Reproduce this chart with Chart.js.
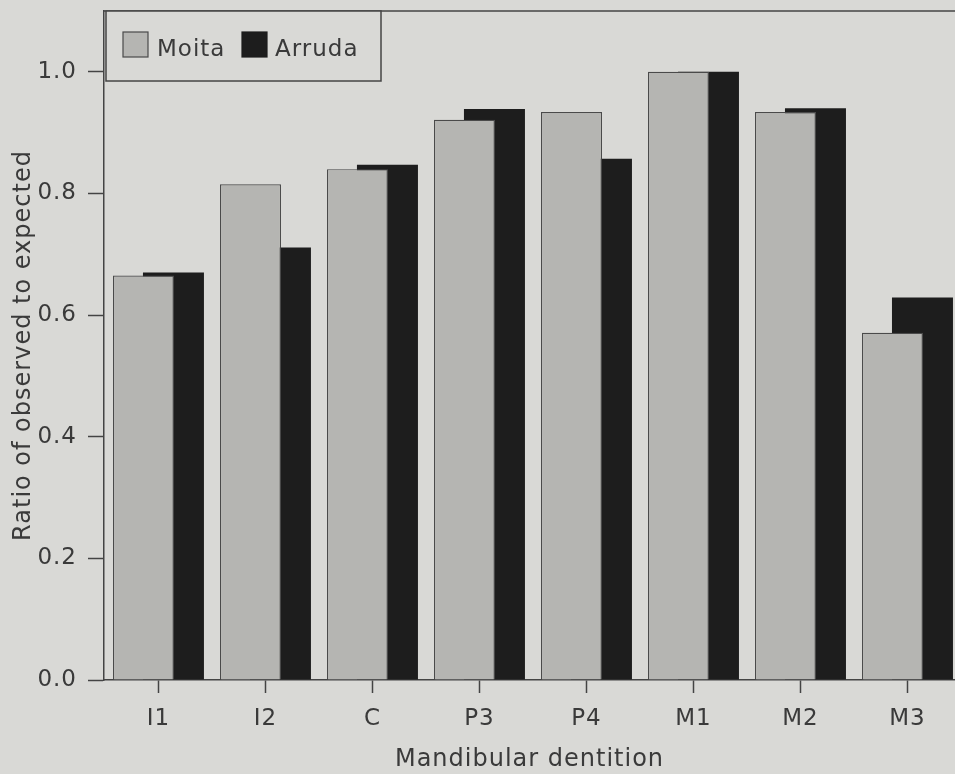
<!DOCTYPE html>
<html>
<head>
<meta charset="utf-8">
<script src="https://cdn.jsdelivr.net/npm/chart.js@4.4.1/dist/chart.umd.min.js"></script>
<style>
  html, body { margin: 0; padding: 0; background: #d9d9d6; }
  canvas { display: block; }
</style>
</head>
<body>
<canvas id="chart" width="955" height="774"></canvas>
<script>
// Mandibular dentition categories and observed/expected ratios
const categories = ['I1', 'I2', 'C', 'P3', 'P4', 'M1', 'M2', 'M3'];
const moitaValues = [0.665, 0.815, 0.840, 0.921, 0.934, 1.000, 0.934, 0.571];
const arrudaValues = [0.670, 0.711, 0.847, 0.939, 0.857, 1.000, 0.940, 0.629];
const yTicks = [0, 0.2, 0.4, 0.6, 0.8, 1.0];

const inkColor = '#3a3a3a';
const fontFamily = '"DejaVu Sans", sans-serif';
const barShift = 0.14; // the two bars of a pair overlap by half

const letterSpacingPlugin = {
    id: 'letterSpacing',
    beforeUpdate: (chart) => { chart.ctx.letterSpacing = '1px'; },
    beforeDraw: (chart) => { chart.ctx.letterSpacing = '1px'; }
};

// Top frame line and boxed legend like the printed figure
const frameLegendPlugin = {
    id: 'frameLegend',
    afterDraw: (chart) => {
        const ctx = chart.ctx;
        const area = chart.chartArea;
        ctx.save();
        ctx.strokeStyle = '#444';
        ctx.lineWidth = 1.5;
        ctx.beginPath();
        ctx.moveTo(area.left, area.top);
        ctx.lineTo(area.right, area.top);
        ctx.stroke();

        // legend box
        const bx = area.left + 2, by = area.top, bw = 275, bh = 70;
        ctx.fillStyle = '#d9d9d6';
        ctx.fillRect(bx, by, bw, bh);
        ctx.strokeRect(bx, by, bw, bh);

        ctx.font = '23px ' + fontFamily;
        ctx.textBaseline = 'alphabetic';
        ctx.textAlign = 'left';
        const items = [
            { x: bx + 17, textX: bx + 51 },
            { x: bx + 136, textX: bx + 169 }
        ];
        chart.data.datasets.forEach((ds, i) => {
            const it = items[i];
            ctx.fillStyle = ds.backgroundColor;
            ctx.fillRect(it.x, by + 21, 25, 25);
            ctx.lineWidth = 1.2;
            ctx.strokeStyle = ds.borderWidth ? ds.borderColor : ds.backgroundColor;
            ctx.strokeRect(it.x, by + 21, 25, 25);
            ctx.fillStyle = inkColor;
            ctx.fillText(ds.label, it.textX, by + 45);
        });
        ctx.restore();
    }
};

const ctx = document.getElementById('chart').getContext('2d');
new Chart(ctx, {
    type: 'bar',
    data: {
        datasets: [
            {
                label: 'Moita',
                data: moitaValues.map((v, i) => ({ x: i - barShift, y: v })),
                backgroundColor: '#b5b5b2',
                borderColor: '#4a4a4a',
                borderWidth: 1.2,
                grouped: false,
                maxBarThickness: 61,
                xAxisID: 'x'
            },
            {
                label: 'Arruda',
                data: arrudaValues.map((v, i) => ({ x: i + barShift, y: v })),
                backgroundColor: '#1d1d1d',
                borderWidth: 0,
                grouped: false,
                maxBarThickness: 61,
                xAxisID: 'x2'
            }
        ]
    },
    options: {
        responsive: false,
        animation: false,
        layout: { padding: { top: 11, right: 0, left: 0, bottom: 0 } },
        plugins: {
            legend: { display: false },
            tooltip: { enabled: false }
        },
        scales: {
            x: {
                type: 'linear',
                min: -0.509,
                max: 7.444,
                offset: false,
                afterFit: (scale) => {
                    scale.height = 94;
                    scale.paddingLeft = 0;
                    scale.paddingRight = 0;
                },
                afterBuildTicks: (scale) => {
                    scale.ticks = categories.map((c, i) => ({ value: i }));
                },
                border: { display: true, color: '#444', width: 1.5 },
                grid: {
                    offset: false,
                    drawOnChartArea: false,
                    drawTicks: true,
                    tickLength: 13,
                    tickWidth: 1.5,
                    tickColor: '#444'
                },
                ticks: {
                    padding: 12,
                    color: inkColor,
                    font: { family: fontFamily, size: 23 },
                    maxRotation: 0,
                    autoSkip: false,
                    callback: (value) => categories[value]
                },
                title: {
                    display: true,
                    text: 'Mandibular dentition',
                    color: inkColor,
                    font: { family: fontFamily, size: 24 },
                    padding: { top: 0, bottom: 0 }
                }
            },
            x2: {
                type: 'linear',
                display: false,
                offset: false,
                grid: { offset: false },
                min: -0.509,
                max: 7.444
            },
            y: {
                min: 0,
                max: 1.1,
                afterFit: (scale) => {
                    scale.width = 104;
                    scale.paddingTop = 0;
                    scale.paddingBottom = 0;
                },
                afterBuildTicks: (scale) => {
                    scale.ticks = yTicks.map(v => ({ value: v }));
                },
                border: { display: true, color: '#444', width: 1.5 },
                grid: {
                    drawOnChartArea: false,
                    drawTicks: true,
                    tickLength: 16,
                    tickWidth: 1.5,
                    tickColor: '#444'
                },
                ticks: {
                    padding: 11,
                    color: inkColor,
                    font: { family: fontFamily, size: 23 },
                    callback: (value) => value.toFixed(1)
                },
                title: {
                    display: true,
                    text: 'Ratio of observed to expected',
                    color: inkColor,
                    font: { family: fontFamily, size: 24 },
                    padding: { top: 9, bottom: 0 }
                }
            }
        }
    },
    plugins: [letterSpacingPlugin, frameLegendPlugin]
});
</script>
</body>
</html>
